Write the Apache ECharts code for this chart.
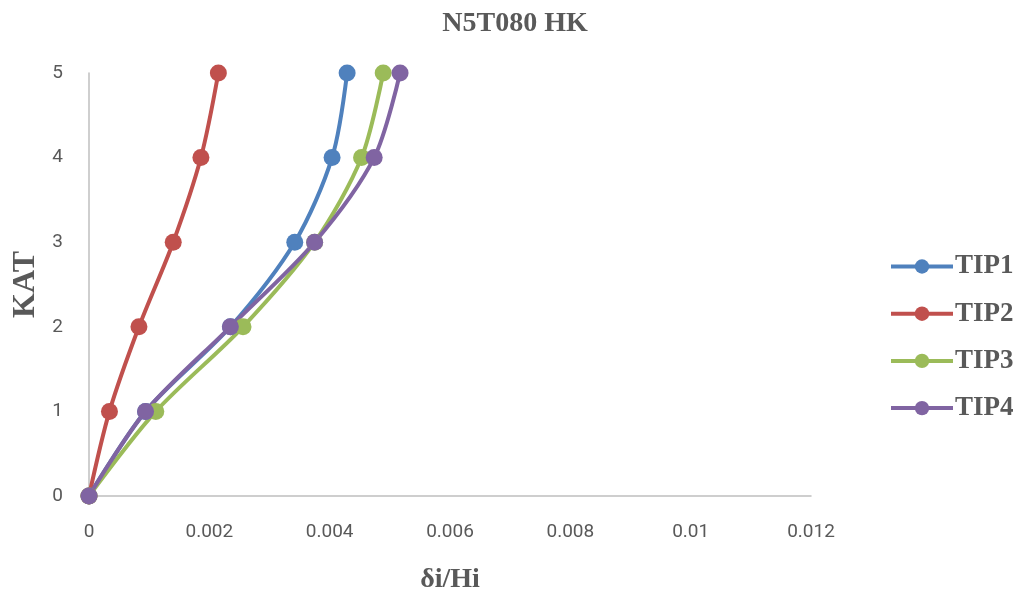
<!DOCTYPE html>
<html>
<head>
<meta charset="utf-8">
<script src="https://cdn.jsdelivr.net/npm/echarts@6/dist/echarts.min.js"></script>
<style>
  html, body { margin: 0; padding: 0; background: #fff; }
  #chart { width: 1029px; height: 599px; }
</style>
</head>
<body>
<div id="chart"></div>
<script>
// Storey levels (KAT) and drift ratios δi/Hi per series
const floors = [0, 1, 2, 3, 4, 5];
const tip1 = [0, 0.00094, 0.00235, 0.00342, 0.00404, 0.00429];
const tip2 = [0, 0.00034, 0.00083, 0.00140, 0.00186, 0.00215];
const tip3 = [0, 0.00111, 0.00256, 0.00375, 0.00453, 0.00489];
const tip4 = [0, 0.00094, 0.00235, 0.00375, 0.00474, 0.00517];
const seriesNames = ['TIP1', 'TIP2', 'TIP3', 'TIP4'];
const seriesColors = ['#4F81BD', '#C0504D', '#9BBB59', '#8064A2'];

const serif = "'Liberation Serif', 'DejaVu Serif', serif";
const narrow = "'Liberation Sans Narrow', 'Roboto', sans-serif";

const chart = echarts.init(document.getElementById('chart'));
const allData = [tip1, tip2, tip3, tip4];

chart.setOption({
  animation: false,
  backgroundColor: '#ffffff',
  title: {
    text: 'N5T080 HK',
    left: 510, top: 5, textAlign: 'center',
    textStyle: { fontFamily: serif, fontWeight: 'bold', fontSize: 28, color: '#595959' }
  },
  legend: {
    orient: 'vertical',
    left: 884, top: 248,
    itemWidth: 62, itemHeight: 18, itemGap: 20.2,
    data: seriesNames,
    lineStyle: { width: 4 },
    textStyle: { fontFamily: serif, fontWeight: 'bold', fontSize: 27, color: '#595959', padding: [0, 0, 0, -3] }
  },
  grid: { left: 89, right: 218, top: 73, bottom: 102 },
  xAxis: {
    type: 'value', min: 0, max: 0.012, interval: 0.002,
    name: 'δi/Hi', nameLocation: 'middle', nameGap: 70,
    nameTextStyle: { fontFamily: serif, fontWeight: 'bold', fontSize: 28, color: '#595959' },
    axisLine: { show: true, lineStyle: { color: '#bfbfbf', width: 1.5 } },
    axisTick: { show: false },
    splitLine: { show: false },
    axisLabel: {
      margin: 27, fontFamily: narrow, fontSize: 19, color: '#595959',
      formatter: v => String(parseFloat(v.toFixed(4)))
    }
  },
  yAxis: {
    type: 'value', min: 0, max: 5, interval: 1,
    name: 'KAT', nameLocation: 'middle', nameGap: 46, nameRotate: 90,
    nameTextStyle: { fontFamily: serif, fontWeight: 'bold', fontSize: 32, color: '#595959' },
    axisLine: { show: true, lineStyle: { color: '#bfbfbf', width: 1.5 } },
    axisTick: { show: false },
    splitLine: { show: false },
    axisLabel: { margin: 26, fontFamily: narrow, fontSize: 19, color: '#595959' }
  },
  series: seriesNames.map((name, i) => ({
    name,
    type: 'line',
    smooth: 0.3,
    symbol: 'circle',
    symbolSize: 17,
    color: seriesColors[i],
    lineStyle: { width: 4, color: seriesColors[i] },
    itemStyle: { color: seriesColors[i] },
    data: floors.map((f, k) => [allData[i][k], f])
  }))
});
</script>
</body>
</html>
